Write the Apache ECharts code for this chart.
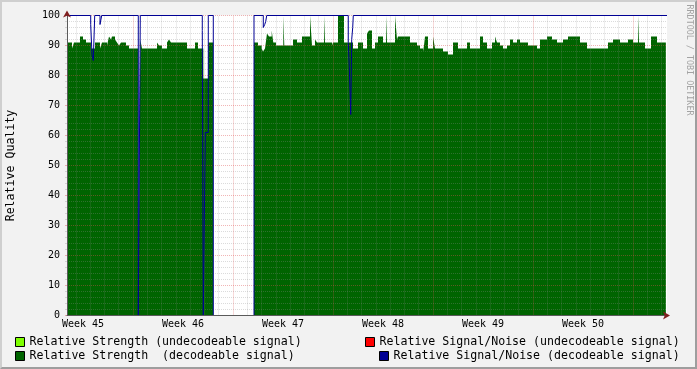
<!DOCTYPE html>
<html><head><meta charset="utf-8">
<script src="https://cdn.jsdelivr.net/npm/echarts@6/dist/echarts.min.js"></script>
<style>
html,body{margin:0;padding:0;background:#f2f2f2;}
#wrap{position:relative;width:697px;height:369px;}
#chart{position:absolute;left:0;top:0;width:697px;height:369px;}
#frame{position:absolute;left:0;top:0;width:697px;height:369px;box-sizing:border-box;border-style:solid;border-width:2px;border-color:#cfcfcf #9e9e9e #9e9e9e #cfcfcf;pointer-events:none;}
</style></head>
<body><div id="wrap"><div id="chart"></div><div id="frame"></div></div>
<script>
// time unit: days since the start of Week 45
const weekLabels = ['Week 45','Week 46','Week 47','Week 48','Week 49','Week 50'];
const weekLabelDays = [3.5, 10.5, 17.5, 24.5, 31.5, 38.5];

// Relative Strength (decodeable signal) — step breakpoints [day, value]
const strengthDecodable = [
[2.38,91],[2.73,89],[2.87,91],[3.29,93],[3.50,92],[3.71,91],[4.06,89],[4.34,91],[4.69,89],[4.83,91],
[5.18,90],[5.32,93],[5.46,92],[5.53,93],[5.74,92],[5.88,91],[6.02,90],[6.16,91],[6.51,90],[6.72,89],
[7.37,0],[7.51,92],[7.63,89],[8.68,91],[8.82,90],[9.03,89],[9.38,91],[9.52,92],[9.66,91],[10.78,89],
[11.34,91],[11.55,89],[11.92,79],[12.27,91],[12.62,0],
[15.47,91],[15.75,90],[16.01,89],[16.10,88],[16.24,89],[16.38,94],[16.52,93],[16.71,95],[16.82,91],[17.01,90],
[17.52,100],[17.59,90],[18.20,92],[18.48,91],[18.83,93],[19.39,100],[19.53,90],[19.74,92],[19.88,91],
[20.37,100],[20.44,91],[20.93,90],[21.00,91],[21.35,100],[21.77,91],[22.40,89],[22.75,91],[23.10,89],
[23.38,94],[23.52,95],[23.73,89],[23.94,91],[24.15,93],[24.50,91],[24.71,100],[24.78,91],[25.34,100],
[25.48,92],[25.55,93],[26.39,91],[26.88,90],[27.09,89],[27.30,88],[27.37,90],[27.44,93],[27.65,89],
[28.00,93],[28.14,89],[28.70,88],[29.05,87],[29.40,91],[29.75,89],[30.38,91],[30.59,89],[31.29,93],
[31.50,91],[31.78,89],[32.13,91],[32.34,93],[32.48,91],[32.69,90],[32.90,89],[33.18,90],[33.39,92],
[33.60,91],[33.88,92],[34.09,91],[34.65,90],[35.28,89],[35.49,92],[35.98,93],[36.33,92],[36.68,91],
[37.10,92],[37.45,93],[38.29,91],[38.78,89],[40.25,91],[40.60,92],[41.09,91],[41.65,92],[42.00,91],
[42.35,100],[42.42,91],[42.84,89],[43.26,93],[43.68,91],[44.30,91]
];
// Relative Strength (undecodeable signal)
const strengthUndecodable = [[11.92,91],[12.06,0]];
// Relative Signal/Noise (decodeable signal)
const snDecodable = [
[2.38,100],[4.04,97],[4.13,87],[4.22,85],[4.32,100],[4.69,97],[4.81,100],[7.37,0],[7.51,100],
[11.85,95],[11.92,0],[12.06,61],[12.27,100],[12.62,0],[15.47,100],[16.12,96],[16.22,97],[16.29,98],
[16.36,100],[22.07,91],[22.14,83],[22.24,67],[22.31,92],[22.38,96],[22.42,100],[44.38,100]
];
// Relative Signal/Noise (undecodeable signal) — none in this period
const snUndecodable = [];

const names = [
  'Relative Strength (undecodeable signal)',
  'Relative Strength  (decodeable signal)',
  'Relative Signal/Noise (undecodeable signal)',
  'Relative Signal/Noise (decodeable signal)'
];
const colors = ['#7fff00', '#006400', '#ff0000', '#000094'];

const FONT = 'DejaVu Sans Mono';
const X_MIN = 2.38, X_MAX = 44.38;
const gridMinor = 'rgba(143,143,143,0.32)';
const gridMajor = 'rgba(222,79,79,0.42)';

const dayLines = [];
for (let d = Math.ceil(X_MIN); d <= Math.floor(X_MAX); d++) {
  dayLines.push({xAxis: d, lineStyle: {color: d % 7 === 0 ? gridMajor : gridMinor, type: [1,1], width: 1}});
}

function legend(name, left, top) {
  return {
    data: [name], left: left, top: top, orient: 'horizontal', padding: 0,
    icon: 'rect', itemWidth: 9, itemHeight: 9, selectedMode: false,
    itemStyle: {borderColor: '#000', borderWidth: 1},
    textStyle: {fontFamily: FONT, fontSize: 11.6, color: '#000'}
  };
}

const chart = echarts.init(document.getElementById('chart'), null, {renderer: 'canvas'});
chart.setOption({
  animation: false,
  backgroundColor: '#f2f2f2',
  grid: {left: 67, top: 15.5, width: 600, height: 300, show: true, backgroundColor: '#ffffff', borderWidth: 0,
    containLabel: false, outerBoundsMode: 'none'},
  xAxis: [{
    type: 'value', min: X_MIN, max: X_MAX, interval: 0.14, z: 10,
    axisLine: {show: true, onZero: false, lineStyle: {color: '#5a5a5a', width: 1}},
    axisTick: {show: false}, splitLine: {show: false},
    axisLabel: {
      margin: 4, fontFamily: FONT, fontSize: 10, color: '#000',
      showMinLabel: true, showMaxLabel: true,
      formatter: function (v) {
        for (let i = 0; i < weekLabelDays.length; i++) {
          if (Math.abs(v - weekLabelDays[i]) < 0.01) return weekLabels[i];
        }
        return '';
      }
    }
  }, {
    type: 'value', min: X_MIN, max: X_MAX, position: 'bottom', offset: 0, z: 11,
    axisLine: {show: true, onZero: false, symbol: ['none', 'arrow'], symbolSize: [6, 7], symbolOffset: [0, 3],
      lineStyle: {color: '#801f1f', width: 0}},
    axisTick: {show: false}, axisLabel: {show: false}, splitLine: {show: false}
  }],
  yAxis: [{
    type: 'value', min: 0, max: 100, interval: 10, z: 3,
    name: 'Relative Quality', nameLocation: 'middle', nameGap: 50, nameRotate: 90,
    nameTextStyle: {fontFamily: FONT, fontSize: 11.6, color: '#000'},
    axisLine: {show: true, onZero: false, lineStyle: {color: '#5a5a5a', width: 1}},
    axisTick: {show: true, length: 2, lineStyle: {color: gridMajor}},
    minorTick: {show: true, splitNumber: 5, length: 2, lineStyle: {color: gridMinor}},
    axisLabel: {margin: 7, fontFamily: FONT, fontSize: 10, color: '#000'},
    splitLine: {show: true, lineStyle: {color: gridMajor, type: [1,1], width: 1}},
    minorSplitLine: {show: true, lineStyle: {color: gridMinor, type: [1,1], width: 1}}
  }, {
    type: 'value', min: 0, max: 100, position: 'left', offset: 0, z: 11,
    axisLine: {show: true, onZero: false, symbol: ['none', 'arrow'], symbolSize: [6, 7], symbolOffset: [0, 5],
      lineStyle: {color: '#801f1f', width: 0}},
    axisTick: {show: false}, axisLabel: {show: false}, splitLine: {show: false}
  }],
  legend: [
    legend(names[0], 15, 336),
    legend(names[2], 365, 336),
    legend(names[1], 15, 350),
    legend(names[3], 379, 350)
  ],
  graphic: [{
    type: 'text', x: 689, y: 60, rotation: -Math.PI / 2, silent: true,
    style: {text: 'RRDTOOL / TOBI OETIKER', fill: '#a3a3a3', font: '8.4px "DejaVu Sans Mono"',
      textAlign: 'center', textVerticalAlign: 'middle'}
  }],
  series: [{
    name: names[0], type: 'line', step: 'end', data: strengthUndecodable, symbol: 'none', z: 1,
    color: colors[0], itemStyle: {color: colors[0]},
    lineStyle: {width: 0, opacity: 0}, areaStyle: {color: colors[0], opacity: 1}
  }, {
    name: names[1], type: 'line', step: 'end', data: strengthDecodable, symbol: 'none', z: 2,
    color: colors[1], itemStyle: {color: colors[1]},
    lineStyle: {width: 0, opacity: 0}, areaStyle: {color: colors[1], opacity: 1}
  }, {
    name: 'grid', type: 'line', data: [], z: 3, silent: true,
    markLine: {silent: true, symbol: ['none', 'none'], label: {show: false}, animation: false, data: dayLines}
  }, {
    name: names[2], type: 'line', step: 'end', data: snUndecodable, symbol: 'none', z: 4,
    color: colors[2], itemStyle: {color: colors[2]}, lineStyle: {color: colors[2], width: 1}
  }, {
    name: names[3], type: 'line', step: 'end', data: snDecodable, symbol: 'none', z: 5, clip: false,
    color: colors[3], itemStyle: {color: colors[3]}, lineStyle: {color: colors[3], width: 1}
  }]
});
</script>
</body></html>
